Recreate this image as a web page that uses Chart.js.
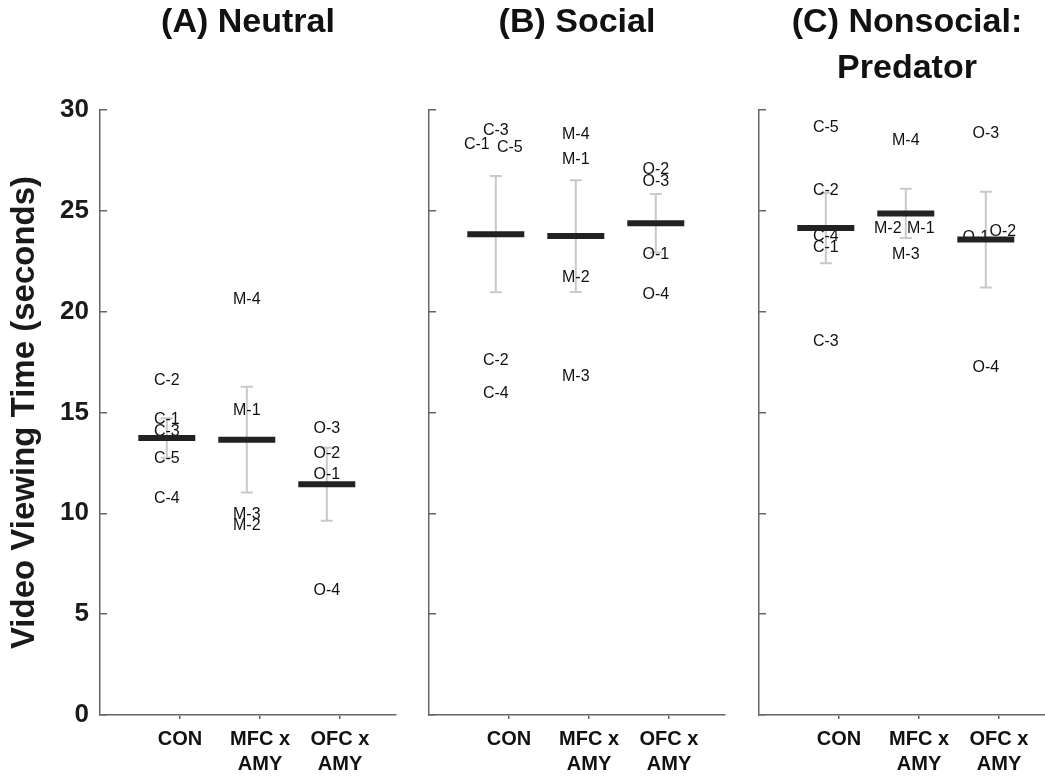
<!DOCTYPE html>
<html>
<head>
<meta charset="utf-8">
<script src="https://cdn.jsdelivr.net/npm/chart.js@4.4.0/dist/chart.umd.min.js"></script>
<style>
  html, body { margin: 0; padding: 0; background: #fff; overflow: hidden; }
  #wrap { position: relative; width: 1045px; height: 778px; overflow: hidden; background: #fff; }
  canvas { position: absolute; top: 0; }
</style>
</head>
<body>
<div id="wrap">
  <canvas id="panelA" width="405" height="778" style="left:0px"></canvas>
  <canvas id="panelB" width="330" height="778" style="left:405px"></canvas>
  <canvas id="panelC" width="330" height="778" style="left:735px"></canvas>
</div>
<script>
// Values

var groupTickLines = [['CON'], ['MFC x', 'AMY'], ['OFC x', 'AMY']];
var yTicks = [0, 5, 10, 15, 20, 25, 30];

var conNames = ['C-1', 'C-2', 'C-3', 'C-4', 'C-5'];
var mfcNames = ['M-1', 'M-2', 'M-3', 'M-4'];
var ofcNames = ['O-1', 'O-2', 'O-3', 'O-4'];

// (A) Neutral
var neutralCon = [14.66, 16.57, 14.05, 10.71, 12.69];
var neutralMfc = [15.07, 9.39, 9.92, 20.62];
var neutralOfc = [11.93, 12.97, 14.18, 6.15];
var neutralMean = [13.73, 13.65, 11.44];
var neutralSem = [0.98, 2.62, 1.81];

// (B) Social
var socialCon = [28.29, 17.57, 29.0, 15.95, 28.13];
var socialMfc = [27.55, 21.69, 16.77, 28.76];
var socialOfc = [22.84, 27.02, 26.44, 20.86];
var socialMean = [23.84, 23.75, 24.38];
var socialSem = [2.88, 2.77, 1.45];

// (C) Nonsocial: Predator
var predatorCon = [23.19, 25.98, 18.49, 23.71, 29.12];
var predatorMfc = [24.10, 24.10, 22.81, 28.46];
var predatorOfc = [23.66, 23.96, 28.81, 17.24];
var predatorMean = [24.14, 24.87, 23.57];
var predatorSem = [1.74, 1.22, 2.37];

// Styling
var fontFamily = "'Liberation Sans', Arial, Helvetica, sans-serif";
var markShift = -0.165;   // marks sit a bit left of the category ticks
var axisColor = '#666666';
// small horizontal nudges (px) for labels that would overlap
var socialNudge = { 'C-1': -19, 'C-5': 14 };
var predatorNudge = { 'M-2': -18, 'M-1': 15, 'O-1': -10, 'O-2': 17 };

Chart.defaults.font.family = fontFamily;
Chart.defaults.color = '#111';

var subjectNames = conNames.concat(mfcNames, ofcNames);

function subjectPoints(con, mfc, ofc) {
    var pts = [];
    [con, mfc, ofc].forEach(function(vals, g) {
        vals.forEach(function(v) {
            pts.push({ x: g + 1 + markShift, y: v });
        });
    });
    return pts;
}

function meanPoints(means) {
    return means.map(function(m, g) {
        return { x: g + 1 + markShift, y: m };
    });
}

// error bars + subject labels, drawn under the mean bars
var markPlugin = {
    id: 'marks',
    beforeDatasetsDraw: function(chart) {
        var ctx = chart.ctx;
        var xs = chart.scales.x, ys = chart.scales.y;
        chart.data.datasets.forEach(function(ds) {
            if (!ds.sem) return;
            ctx.save();
            ctx.strokeStyle = '#c9c9c9';
            ctx.lineWidth = 2;
            ds.data.forEach(function(p, i) {
                var px = xs.getPixelForValue(p.x);
                var top = ys.getPixelForValue(p.y + ds.sem[i]);
                var bot = ys.getPixelForValue(p.y - ds.sem[i]);
                ctx.beginPath();
                ctx.moveTo(px, top); ctx.lineTo(px, bot);
                ctx.moveTo(px - 6, top); ctx.lineTo(px + 6, top);
                ctx.moveTo(px - 6, bot); ctx.lineTo(px + 6, bot);
                ctx.stroke();
            });
            ctx.restore();
        });
        chart.data.datasets.forEach(function(ds, di) {
            if (!ds.names) return;
            var meta = chart.getDatasetMeta(di);
            ctx.save();
            ctx.font = '16px ' + fontFamily;
            ctx.fillStyle = '#111';
            ctx.textAlign = 'center';
            ctx.textBaseline = 'middle';
            meta.data.forEach(function(el, i) {
                var nudge = (ds.nudge && ds.nudge[ds.names[i]]) || 0;
                ctx.fillText(ds.names[i], el.x + nudge, el.y);
            });
            ctx.restore();
        });
    }
};

function makePanel(id, cfg) {
    var ctx = document.getElementById(id).getContext('2d');
    return new Chart(ctx, {
        type: 'scatter',
        data: {
            datasets: [{
                label: 'mean',
                data: meanPoints(cfg.means),
                sem: cfg.sems,
                pointStyle: 'line',
                pointRadius: 28.5,
                pointHoverRadius: 28.5,
                pointBorderWidth: 6,
                pointHoverBorderWidth: 6,
                pointBorderColor: '#222',
                pointBackgroundColor: '#222'
            }, {
                label: 'subjects',
                data: subjectPoints(cfg.con, cfg.mfc, cfg.ofc),
                names: subjectNames,
                nudge: cfg.nudge,
                pointRadius: 0,
                pointHoverRadius: 0
            }]
        },
        options: {
            responsive: false,
            animation: false,
            devicePixelRatio: 1,
            events: [],
            layout: {
                autoPadding: false,
                padding: { left: 0, right: cfg.padRight, top: 0, bottom: 0 }
            },
            plugins: {
                legend: { display: false },
                tooltip: { enabled: false },
                title: {
                    display: true,
                    text: cfg.title,
                    fullSize: false,
                    color: '#111',
                    font: { size: 34, weight: 'bold', lineHeight: 1.34 },
                    padding: { top: 0, bottom: cfg.titlePad }
                }
            },
            scales: {
                x: {
                    type: 'linear',
                    position: 'bottom',
                    min: 0,
                    max: 3.7,
                    afterBuildTicks: function(scale) {
                        scale.ticks = groupTickLines.map(function(l, i) { return { value: i + 1 }; });
                    },
                    afterFit: function(scale) { scale.height = 63; },
                    ticks: {
                        autoSkip: false,
                        maxRotation: 0,
                        minRotation: 0,
                        padding: 8,
                        color: '#111',
                        font: { size: 20, weight: 'bold', lineHeight: 1.25 },
                        callback: function(value) {
                            return groupTickLines[Math.round(value) - 1];
                        }
                    },
                    grid: {
                        drawOnChartArea: false,
                        tickLength: 4,
                        color: axisColor,
                        lineWidth: 1.5
                    },
                    border: { display: true, color: axisColor, width: 1.5 }
                },
                y: {
                    type: 'linear',
                    min: 0,
                    max: 30,
                    afterBuildTicks: function(scale) {
                        scale.ticks = yTicks.map(function(v) { return { value: v }; });
                    },
                    afterFit: function(scale) { scale.width = cfg.yWidth; },
                    ticks: {
                        display: cfg.showYLabels,
                        padding: 18,
                        color: '#1a1a1a',
                        font: { size: 26, weight: 'bold' }
                    },
                    grid: {
                        drawOnChartArea: false,
                        tickLength: -7,
                        color: axisColor,
                        lineWidth: 1.5
                    },
                    border: { display: true, color: axisColor, width: 1.5 },
                    title: {
                        display: cfg.showYLabels,
                        text: 'Video Viewing Time (seconds)',
                        color: '#1a1a1a',
                        font: { size: 33, weight: 'bold', lineHeight: 1.2 },
                        padding: { top: 5, bottom: 0 }
                    }
                }
            }
        },
        plugins: [markPlugin]
    });
}

// title line height is 34 * 1.34 = 45.6px; plot top sits at 110px
makePanel('panelA', {
    title: '(A) Neutral', titlePad: 64.4, yWidth: 100, padRight: 9, showYLabels: true,
    con: neutralCon, mfc: neutralMfc, ofc: neutralOfc,
    means: neutralMean, sems: neutralSem, nudge: null
});
makePanel('panelB', {
    title: '(B) Social', titlePad: 64.4, yWidth: 24, padRight: 10, showYLabels: false,
    con: socialCon, mfc: socialMfc, ofc: socialOfc,
    means: socialMean, sems: socialSem, nudge: socialNudge
});
makePanel('panelC', {
    title: ['(C) Nonsocial:', 'Predator'], titlePad: 18.8, yWidth: 24, padRight: 10, showYLabels: false,
    con: predatorCon, mfc: predatorMfc, ofc: predatorOfc,
    means: predatorMean, sems: predatorSem, nudge: predatorNudge
});
</script>
</body>
</html>
